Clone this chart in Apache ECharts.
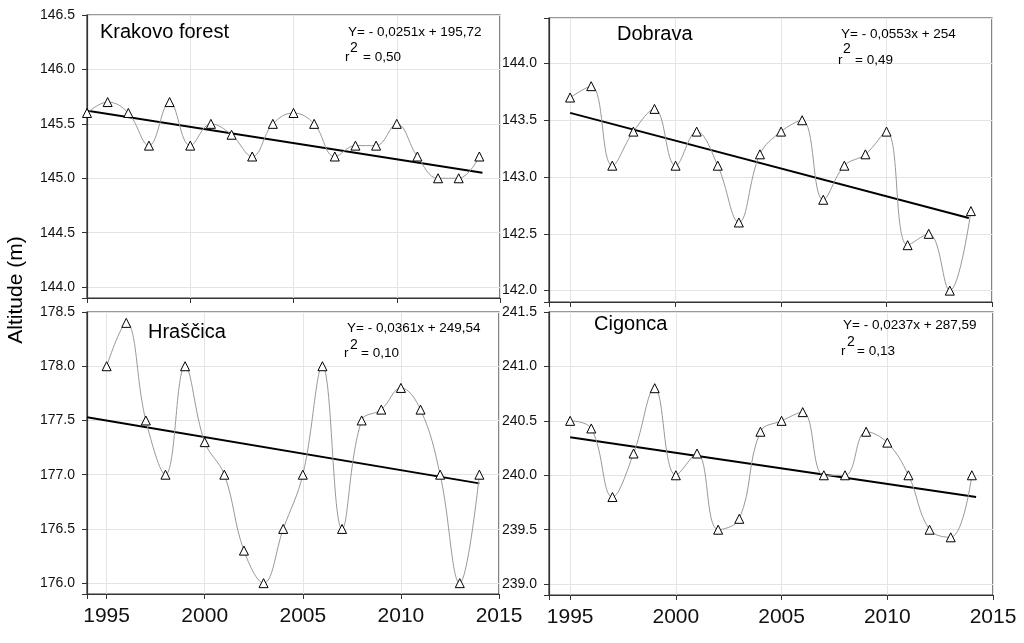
<!DOCTYPE html>
<html>
<head>
<meta charset="utf-8">
<script src="https://cdn.jsdelivr.net/npm/echarts@6/dist/echarts.min.js"></script>
<style>
html,body{margin:0;padding:0;background:#fff;}
#chart{width:1024px;height:643px;}
</style>
</head>
<body>
<div id="chart"></div>
<script>
const years = [1995,1996,1997,1998,1999,2000,2001,2002,2003,2004,2005,2006,2007,2008,2009,2010,2011,2012,2013,2014];
const krakovo = [145.6,145.7,145.6,145.3,145.7,145.3,145.5,145.4,145.2,145.5,145.6,145.5,145.2,145.3,145.3,145.5,145.2,145.0,145.0,145.2];
const dobrava = [143.7,143.8,143.1,143.4,143.6,143.1,143.4,143.1,142.6,143.2,143.4,143.5,142.8,143.1,143.2,143.4,142.4,142.5,142.0,142.7];
const hrascica = [178.0,178.4,177.5,177.0,178.0,177.3,177.0,176.3,176.0,176.5,177.0,178.0,176.5,177.5,177.6,177.8,177.6,177.0,176.0,177.0];
const cigonca = [240.5,240.43,239.8,240.2,240.8,240.0,240.2,239.5,239.6,240.4,240.5,240.58,240.0,240.0,240.4,240.3,240.0,239.5,239.43,240.0];

const krakovoTrendX = [1994.7, 2014.15];
const krakovoTrendY = [145.63, 145.05];
const dobravaTrendX = [1995, 2013.9];
const dobravaTrendY = [143.565, 142.64];
const hrascicaTrendX = [1994, 2014];
const hrascicaTrendY = [177.53, 176.92];
const cigoncaTrendX = [1995, 2014.2];
const cigoncaTrendY = [240.35, 239.80];

const panelNames = ['Krakovo forest','Dobrava','Hraščica','Cigonca'];
const equations = ['Y= - 0,0251x + 195,72','Y= - 0,0553x + 254','Y= - 0,0361x + 249,54','Y= - 0,0237x + 287,59'];
const r2Values = ['= 0,50','= 0,49','= 0,10','= 0,13'];
const yMins = [143.9, 141.9, 175.9, 238.9];
const yMaxs = [146.5, 144.4, 178.5, 241.5];
const xMins = [1995, 1994, 1994, 1994];
const xMax = 2015;

const FONT = '"Liberation Sans", Arial, sans-serif';
const grids = [
  {left:87, top:15, width:413, height:283},
  {left:549, top:18, width:443, height:284},
  {left:87, top:312, width:412, height:282},
  {left:549, top:312, width:444, height:283}
];

const valueSets = [krakovo, dobrava, hrascica, cigonca];
const trendSets = [[krakovoTrendX,krakovoTrendY],[dobravaTrendX,dobravaTrendY],[hrascicaTrendX,hrascicaTrendY],[cigoncaTrendX,cigoncaTrendY]];

const xAxes = grids.map((g,i)=>({
  type:'value', gridIndex:i, min:xMins[i], max:xMax,
  minInterval:5, maxInterval:5,
  axisLine:{show:true, onZero:false, lineStyle:{color:'#333', width:1.2}},
  axisTick:{show:true, inside:false, length:5, lineStyle:{color:'#333'}},
  axisLabel:{show:i>=2, margin:12, fontSize:21, color:'#111', fontFamily:FONT,
    formatter:v=> (Math.round(v)%5===0 ? String(Math.round(v)) : '')},
  splitLine:{show:true, lineStyle:{color:'#e4e4e4', width:1}}
}));
const yAxes = grids.map((g,i)=>({
  type:'value', gridIndex:i, min:yMins[i], max:yMaxs[i],
  minInterval:0.5, maxInterval:0.5,
  axisLine:{show:true, lineStyle:{color:'#333', width:1.2}},
  axisTick:{show:true, inside:false, length:5, lineStyle:{color:'#333'}},
  axisLabel:{show:true, margin:12, fontSize:14, color:'#111', fontFamily:FONT,
    formatter:v=> (Math.abs(Math.round(v*10)%5)===0 ? v.toFixed(1) : '')},
  splitLine:{show:true, lineStyle:{color:'#e4e4e4', width:1}}
}));

const series = [];
valueSets.forEach((vals,i)=>{
  series.push({
    type:'line', xAxisIndex:i, yAxisIndex:i,
    data: years.map((y,k)=>[y, vals[k]]),
    smooth:0.4,
    symbol:'triangle', symbolSize:9,
    lineStyle:{color:'#999', width:1},
    itemStyle:{color:'#fff', borderColor:'#000', borderWidth:1},
    z:3, animation:false
  });
  const t = trendSets[i];
  series.push({
    type:'line', xAxisIndex:i, yAxisIndex:i,
    data: t[0].map((x,k)=>[x, t[1][k]]),
    showSymbol:false, symbol:'none', clip:false,
    lineStyle:{color:'#000', width:2},
    z:2, animation:false
  });
});

function txt(x,y,text,size){
  return {type:'text', x:x, y:y, z:100, style:{text:text, fontSize:size, fontFamily:FONT, fill:'#000', verticalAlign:'middle', align:'left'}};
}
const labelPos = [
  {title:[100,32], eq:[348,32], sup:[350,48], r:[345,57], val:[363,57]},
  {title:[617,34], eq:[841,34], sup:[843,49], r:[838,60], val:[855,60]},
  {title:[148,332], eq:[347,328], sup:[350,345], r:[344,353], val:[361,353]},
  {title:[594,324], eq:[843,325], sup:[847,342], r:[841,351], val:[857,351]}
];
const graphics = [];
labelPos.forEach((p,i)=>{
  graphics.push(txt(p.title[0],p.title[1],panelNames[i],20));
  graphics.push(txt(p.eq[0],p.eq[1],equations[i],13.5));
  graphics.push(txt(p.sup[0],p.sup[1],'2',14));
  graphics.push(txt(p.r[0],p.r[1],'r',13.5));
  graphics.push(txt(p.val[0],p.val[1],r2Values[i],13.5));
});
graphics.push({type:'text', x:16, y:290, rotation:Math.PI/2, z:100,
  style:{text:'Altitude (m)', fontSize:21, fontFamily:FONT, fill:'#000', align:'center', verticalAlign:'middle'}});

const chart = echarts.init(document.getElementById('chart'), null, {renderer:'canvas'});
chart.setOption({
  backgroundColor:'#fff',
  animation:false,
  grid: grids.map(g=>Object.assign({show:true, borderColor:'#333', borderWidth:1.2, backgroundColor:'transparent'}, g)),
  xAxis:xAxes,
  yAxis:yAxes,
  series:series,
  graphic:graphics
});
</script>
</body>
</html>
